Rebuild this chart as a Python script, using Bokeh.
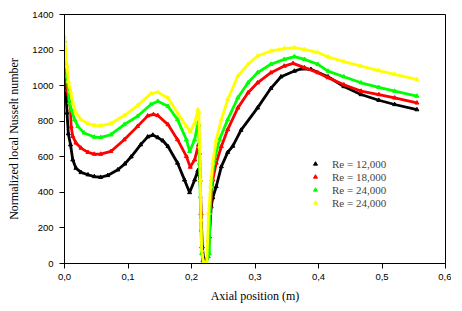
from bokeh.plotting import figure
from bokeh.models import FixedTicker, CustomJSTickFormatter, Legend, LegendItem
from bokeh.embed import file_html
from bokeh.resources import INLINE

x_ticks = [0.0, 0.1, 0.2, 0.3, 0.4, 0.5, 0.6]
y_ticks = [0, 200, 400, 600, 800, 1000, 1200, 1400]

series_names = ["Re = 12,000", "Re = 18,000", "Re = 24,000", "Re = 24,000"]
series_colors = ["#000000", "#ff0000", "#00ff00", "#ffff00"]

x_re12 = [0.0, 0.001, 0.004, 0.006, 0.0095, 0.013, 0.018, 0.026, 0.037, 0.047, 0.057, 0.068, 0.084,
          0.095, 0.105, 0.12, 0.131, 0.139, 0.147, 0.155, 0.163, 0.178, 0.189, 0.197, 0.205, 0.21,
          0.2135, 0.215, 0.217, 0.219, 0.222, 0.226, 0.228, 0.231, 0.2335, 0.239, 0.247, 0.257,
          0.265, 0.278, 0.304, 0.325, 0.341, 0.362, 0.373, 0.388, 0.415, 0.44, 0.467, 0.495, 0.52, 0.555]
y_re12 = [1158, 1035, 847, 730, 668, 583, 536, 512, 499, 489, 485, 495, 527,
          560, 600, 668, 712, 722, 708, 690, 658, 565, 470, 399, 470, 523,
          470, 282, 94, 30, 5, 40, 150, 320, 370, 433, 545, 625,
          660, 750, 875, 985, 1050, 1082, 1095, 1092, 1050, 995, 950, 918, 894, 865]

x_re18 = [0.0, 0.001, 0.004, 0.0095, 0.0105, 0.013, 0.018, 0.026, 0.037, 0.047, 0.057, 0.073, 0.094,
          0.115, 0.131, 0.14, 0.147, 0.163, 0.178, 0.192, 0.198, 0.205, 0.211, 0.2126, 0.214, 0.215,
          0.216, 0.218, 0.222, 0.226, 0.227, 0.23, 0.2335, 0.239, 0.247, 0.257, 0.273, 0.289, 0.304,
          0.325, 0.346, 0.36, 0.378, 0.399, 0.415, 0.44, 0.467, 0.495, 0.52, 0.555]
y_re18 = [1214, 1129, 975, 866, 768, 715, 678, 649, 625, 615, 615, 630, 696,
          771, 830, 838, 832, 781, 696, 602, 542, 583, 668, 621, 470, 282,
          94, 15, 3, 40, 132, 320, 470, 565, 658, 753, 875, 960, 1016,
          1073, 1110, 1125, 1101, 1073, 1045, 1005, 969, 950, 931, 903]

x_re24a = [0.0, 0.001, 0.004, 0.008, 0.0105, 0.016, 0.021, 0.031, 0.047, 0.057, 0.073, 0.094, 0.115,
           0.136, 0.147, 0.163, 0.178, 0.192, 0.197, 0.205, 0.21, 0.2115, 0.2126, 0.214, 0.215, 0.216,
           0.219, 0.223, 0.228, 0.229, 0.232, 0.236, 0.244, 0.257, 0.273, 0.289, 0.304, 0.325, 0.346,
           0.362, 0.378, 0.399, 0.415, 0.44, 0.467, 0.495, 0.52, 0.555]
y_re24a = [1251, 1180, 1054, 903, 866, 809, 771, 734, 711, 709, 724, 781, 828,
           894, 912, 884, 809, 696, 630, 696, 790, 780, 565, 376, 188, 56,
           10, 3, 56, 282, 470, 583, 696, 809, 932, 1016, 1073, 1120, 1148,
           1163, 1148, 1120, 1082, 1050, 1016, 990, 969, 941]

x_re24b = [0.0, 0.001, 0.004, 0.006, 0.0095, 0.013, 0.018, 0.026, 0.037, 0.047, 0.057, 0.073, 0.094,
           0.115, 0.136, 0.147, 0.163, 0.178, 0.192, 0.198, 0.205, 0.21, 0.2115, 0.213, 0.214, 0.215,
           0.216, 0.219, 0.224, 0.227, 0.23, 0.2335, 0.239, 0.247, 0.257, 0.273, 0.289, 0.304, 0.325,
           0.346, 0.362, 0.378, 0.399, 0.415, 0.44, 0.467, 0.495, 0.52, 0.555]
y_re24b = [1276, 1214, 1110, 1025, 969, 903, 847, 809, 787, 777, 775, 787, 832,
           888, 955, 963, 931, 847, 771, 743, 790, 866, 855, 658, 470, 245,
           75, 5, 3, 282, 433, 565, 696, 809, 922, 1054, 1120, 1167, 1195,
           1208, 1214, 1204, 1186, 1162, 1135, 1110, 1085, 1063, 1035]

all_x = [x_re12, x_re18, x_re24a, x_re24b]
all_y = [y_re12, y_re18, y_re24a, y_re24b]

p = figure(width=451, height=305, x_range=(0, 0.6), y_range=(0, 1400),
           output_backend="svg", toolbar_location=None,
           min_border_left=64, min_border_right=6, min_border_top=14, min_border_bottom=40)

p.xgrid.visible = False
p.ygrid.visible = False
p.outline_line_color = "black"
p.outline_line_width = 1
p.background_fill_color = "white"
p.border_fill_color = "white"

items = []
for xs, ys, name, col in zip(all_x, all_y, series_names, series_colors):
    p.line(xs, ys, line_color=col, line_width=2.8)
    r = p.scatter(xs, ys, marker="triangle", size=4, fill_color=col, line_color=col)
    items.append(LegendItem(label=name, renderers=[r]))

for ax in (p.xaxis[0], p.yaxis[0]):
    ax.axis_line_color = "black"
    ax.major_tick_line_color = "black"
    ax.major_tick_out = 5
    ax.major_tick_in = 0
    ax.minor_tick_line_color = None
    ax.major_label_text_font = "Liberation Sans"
    ax.major_label_text_font_size = "9.5px"
    ax.major_label_text_color = "black"
    ax.axis_label_text_font = "Liberation Serif"
    ax.axis_label_text_font_size = "12px"
    ax.axis_label_text_font_style = "normal"
    ax.axis_label_text_color = "black"

p.xaxis[0].ticker = FixedTicker(ticks=x_ticks)
p.yaxis[0].ticker = FixedTicker(ticks=y_ticks)
p.xaxis[0].formatter = CustomJSTickFormatter(code="return tick.toFixed(1).replace('.', ',');")
p.xaxis[0].axis_label = "Axial position (m)"
p.yaxis[0].axis_label = "Normalized local Nusselt number"
p.xaxis[0].major_label_standoff = 5
p.yaxis[0].major_label_standoff = 6
p.xaxis[0].axis_label_standoff = 6
p.yaxis[0].axis_label_standoff = 8

legend = Legend(items=items, location=(246, 54), padding=0, margin=0, spacing=0,
                glyph_width=10, glyph_height=13, label_height=13, label_standoff=12,
                label_text_font="Liberation Serif", label_text_font_size="11px",
                border_line_color=None, background_fill_alpha=0)
p.add_layout(legend, "center")

open("out.html", "w").write(file_html(p, INLINE))
